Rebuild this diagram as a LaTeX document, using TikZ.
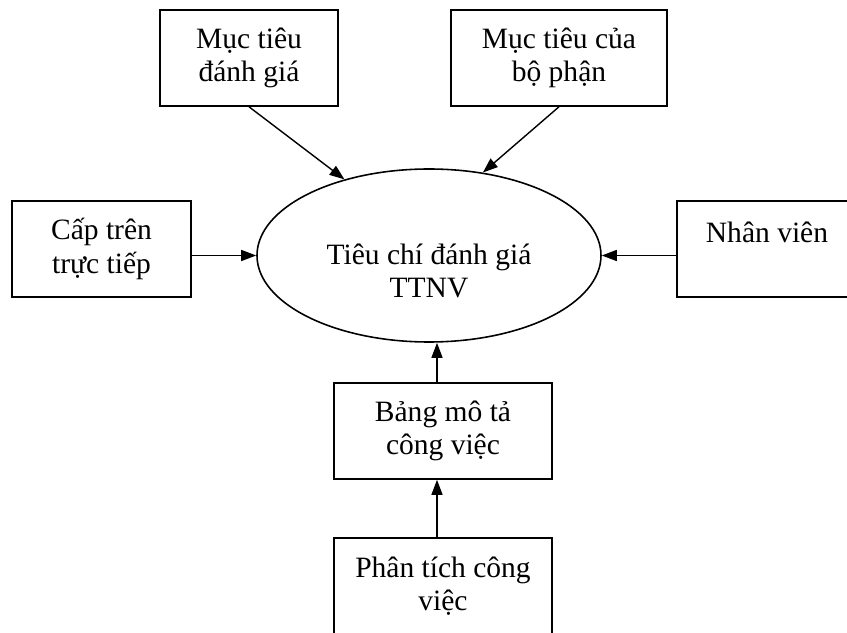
\documentclass[tikz,border=0pt]{standalone}
\usepackage{fontspec}
\setmainfont{Liberation Serif}
\usetikzlibrary{shapes,arrows.meta,positioning}

\begin{document}
\begin{tikzpicture}[
    box/.style={rectangle, draw, line width=0.9pt, minimum width=3.58cm, minimum height=1.92cm, align=center, font=\fontsize{16.8}{19}\selectfont},
    target/.style={ellipse, draw, line width=0.9pt, minimum width=6.88cm, minimum height=3.46cm, align=center, font=\fontsize{16.8}{19}\selectfont},
    flow/.style={-{Triangle[length=0.3cm,width=0.22cm]}, line width=0.8pt}
]

% Page frame
\useasboundingbox (0,0) rectangle (16.94,12.64);
\clip (0,0) rectangle (16.94,12.64);

% Inputs on top
\node[box, minimum width=3.56cm] (goaleval) at (4.98,11.48) {Mục tiêu\\đánh giá};
\node[box, minimum width=4.32cm] (goaldept) at (11.18,11.48) {Mục tiêu của\\bộ phận};

% Middle row
\node[box] (boss) at (2.03,7.66) {Cấp trên\\trực tiếp};
\node[target] (crit) at (8.58,7.53) {~\\[10pt]Tiêu chí đánh giá\\TTNV};
\node[box, minimum width=3.6cm] (staff) at (15.34,7.66) {Nhân viên\\~};

% Chain below
\node[box, minimum width=4.36cm] (jobdesc) at (8.86,4.02) {Bảng mô tả\\công việc};
\node[box, minimum width=4.36cm] (jobanal) at (8.86,0.92) {Phân tích công\\việc};

% Arrows into the criteria
\draw[flow] (goaleval.south) -- (crit.138);
\draw[flow] (goaldept.south) -- (crit.57);
\draw[flow] (boss.east |- crit.west) -- (crit.west);
\draw[flow] (staff.west |- crit.east) -- (crit.east);
\draw[flow] ([xshift=-0.12cm]jobdesc.north) -- ([xshift=-0.12cm]jobdesc.north |- crit.south);
\draw[flow] ([xshift=-0.12cm]jobanal.north) -- ([xshift=-0.12cm]jobdesc.south);

\end{tikzpicture}
\end{document}
